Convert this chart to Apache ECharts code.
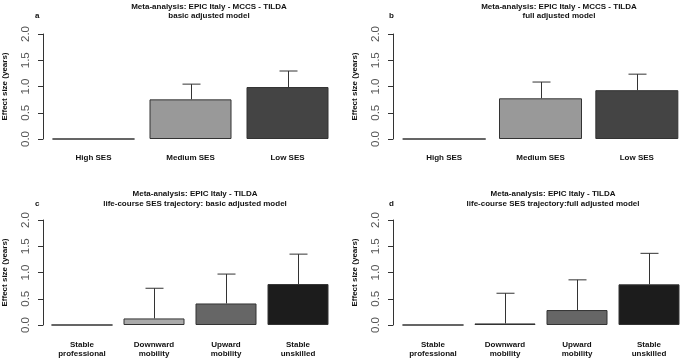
<!DOCTYPE html>
<html>
<head>
<meta charset="utf-8">
<script src="https://cdn.jsdelivr.net/npm/echarts@6/dist/echarts.min.js"></script>
<style>
html, body { margin: 0; padding: 0; background: #fff; }
#chart { width: 685px; height: 361px; }
</style>
</head>
<body>
<div id="chart"></div>
<script>
// data
var sesCats = ['High SES', 'Medium SES', 'Low SES'];
var trajCats = ['Stable\nprofessional', 'Downward\nmobility', 'Upward\nmobility', 'Stable\nunskilled'];
var yTicks = [0, 0.5, 1.0, 1.5, 2.0];

var basicSes = [0, 0.755, 0.99];
var basicSesUpper = [null, 1.045, 1.295];
var fullSes = [0, 0.775, 0.93];
var fullSesUpper = [null, 1.085, 1.235];
var basicTraj = [0, 0.125, 0.41, 0.78];
var basicTrajUpper = [null, 0.70, 0.97, 1.35];
var fullTraj = [0, 0.03, 0.285, 0.775];
var fullTrajUpper = [null, 0.605, 0.86, 1.365];

var titles = [
    'Meta-analysis: EPIC Italy - MCCS - TILDA\nbasic adjusted model',
    'Meta-analysis: EPIC Italy - MCCS - TILDA\nfull adjusted model',
    'Meta-analysis: EPIC Italy - TILDA\nlife-course SES trajectory: basic adjusted model',
    'Meta-analysis: EPIC Italy - TILDA\nlife-course SES trajectory:full adjusted model'
];
var letters = ['a', 'b', 'c', 'd'];

// styling
var sesColors = ['#cfcfcf', '#999999', '#444444'];
var trajColors = ['#e0e0e0', '#aaaaaa', '#666666', '#1c1c1c'];
var font = 'Liberation Sans, Arial, sans-serif';
var lineCol = '#333333';

var panels = [
    { cats: sesCats, vals: basicSes, upper: basicSesUpper, colors: sesColors,
      grid: { left: 42, top: 34, width: 294, height: 105 }, off: 2, barW: 82, lblMargin: 14,
      titleX: 209, titleY: 2, letterX: 35, letterY: 12 },
    { cats: sesCats, vals: fullSes, upper: fullSesUpper, colors: sesColors,
      grid: { left: 396, top: 34, width: 294, height: 105 }, off: 3, barW: 83, lblMargin: 14,
      titleX: 559, titleY: 2, letterX: 389, letterY: 12 },
    { cats: trajCats, vals: basicTraj, upper: basicTrajUpper, colors: trajColors,
      grid: { left: 43, top: 220, width: 291, height: 105 }, off: 3, barW: 61, lblMargin: 15,
      titleX: 195, titleY: 189.5, letterX: 35, letterY: 200 },
    { cats: trajCats, vals: fullTraj, upper: fullTrajUpper, colors: trajColors,
      grid: { left: 397, top: 220, width: 292, height: 105 }, off: 4, barW: 61, lblMargin: 15,
      titleX: 553, titleY: 189.5, letterX: 389, letterY: 200 }
];

var option = {
    animation: false,
    backgroundColor: '#fff',
    title: [],
    grid: [],
    xAxis: [],
    yAxis: [],
    series: []
};

panels.forEach(function (p, i) {
    option.title.push({
        text: titles[i],
        left: p.titleX,
        top: p.titleY,
        padding: 0,
        textAlign: 'center',
        textStyle: { fontFamily: font, fontSize: 8, fontWeight: 'bold', color: '#111', lineHeight: 9.5 }
    });
    option.title.push({
        text: letters[i],
        left: p.letterX,
        top: p.letterY,
        padding: 0,
        textStyle: { fontFamily: font, fontSize: 8, fontWeight: 'bold', color: '#111' }
    });
    option.grid.push(p.grid);
    option.xAxis.push({
        type: 'category',
        gridIndex: i,
        data: p.cats,
        axisLine: { show: false },
        axisTick: { show: false },
        axisLabel: {
            margin: p.lblMargin, fontFamily: font, fontSize: 8, fontWeight: 'bold',
            color: '#111', lineHeight: 9, interval: 0
        }
    });
    option.yAxis.push({
        type: 'value',
        gridIndex: i,
        min: 0,
        max: 2,
        interval: 0.5,
        offset: p.off,
        name: 'Effect size (years)',
        nameLocation: 'middle',
        nameGap: 34,
        nameTextStyle: { fontFamily: font, fontSize: 8, fontWeight: 'bold', color: '#111' },
        splitLine: { show: false },
        axisLine: { show: true, lineStyle: { color: lineCol, width: 1 } },
        axisTick: { show: true, length: 5, lineStyle: { color: lineCol } },
        axisLabel: {
            rotate: 90, margin: 11, fontFamily: font, fontSize: 11.5, color: '#555',
            formatter: function (v) { return v.toFixed(1); }
        }
    });
    option.series.push({
        type: 'bar',
        xAxisIndex: i,
        yAxisIndex: i,
        barWidth: p.barW,
        data: p.vals.map(function (v, k) {
            return { value: v, itemStyle: { color: p.colors[k] } };
        }),
        itemStyle: { borderColor: lineCol, borderWidth: 1 }
    });
    var err = [];
    p.upper.forEach(function (u, k) {
        if (u != null) err.push([k, p.vals[k], u]);
    });
    option.series.push({
        type: 'custom',
        xAxisIndex: i,
        yAxisIndex: i,
        z: 5,
        data: err,
        renderItem: function (params, api) {
            var a = api.coord([api.value(0), api.value(1)]);
            var b = api.coord([api.value(0), api.value(2)]);
            var x = Math.round(a[0]) + 0.5;
            var cap = 9;
            var st = { stroke: lineCol, lineWidth: 1 };
            return {
                type: 'group',
                children: [
                    { type: 'line', shape: { x1: x, y1: a[1], x2: x, y2: b[1] }, style: st },
                    { type: 'line', shape: { x1: x - cap, y1: b[1], x2: x + cap, y2: b[1] }, style: st }
                ]
            };
        }
    });
});

var chart = echarts.init(document.getElementById('chart'));
chart.setOption(option);
</script>
</body>
</html>
